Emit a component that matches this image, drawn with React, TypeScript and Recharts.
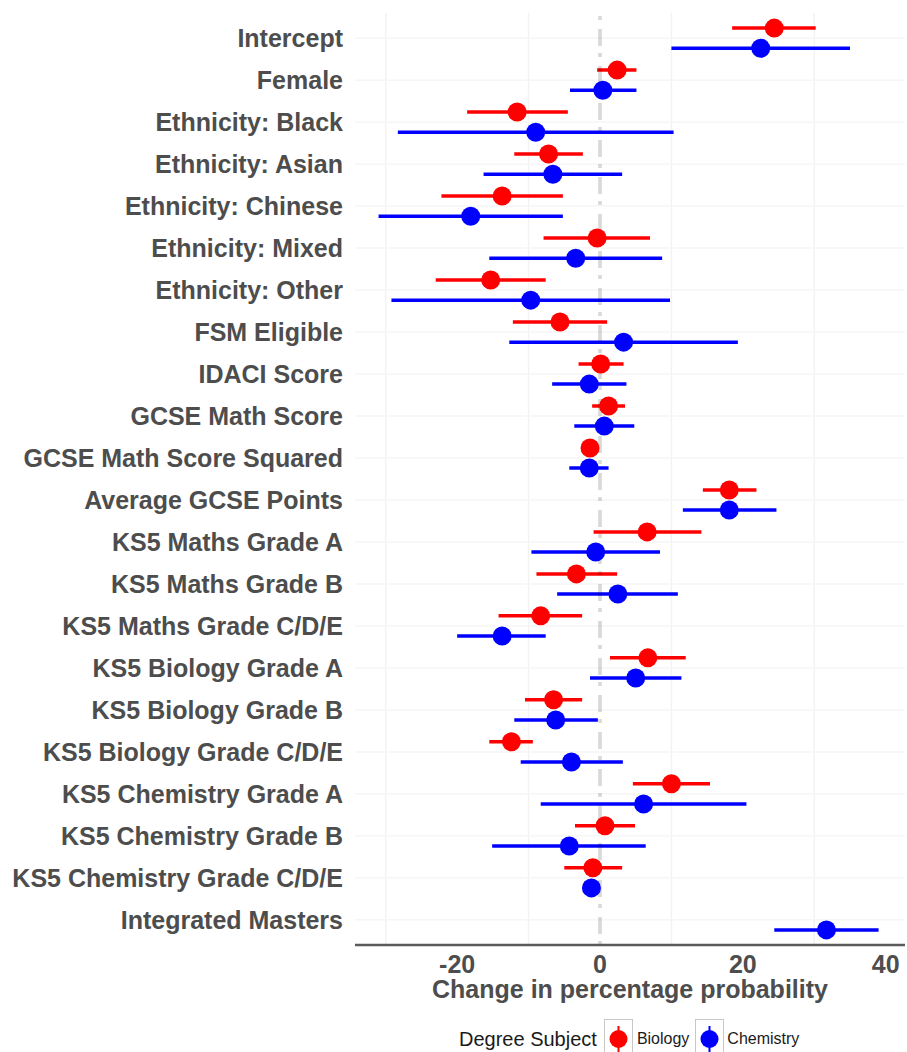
import React from 'react';
import {
  ScatterChart,
  Scatter,
  XAxis,
  YAxis,
  ErrorBar,
  ReferenceLine,
} from 'recharts';

const categories = [
  'Intercept',
  'Female',
  'Ethnicity: Black',
  'Ethnicity: Asian',
  'Ethnicity: Chinese',
  'Ethnicity: Mixed',
  'Ethnicity: Other',
  'FSM Eligible',
  'IDACI Score',
  'GCSE Math Score',
  'GCSE Math Score Squared',
  'Average GCSE Points',
  'KS5 Maths Grade A',
  'KS5 Maths Grade B',
  'KS5 Maths Grade C/D/E',
  'KS5 Biology Grade A',
  'KS5 Biology Grade B',
  'KS5 Biology Grade C/D/E',
  'KS5 Chemistry Grade A',
  'KS5 Chemistry Grade B',
  'KS5 Chemistry Grade C/D/E',
  'Integrated Masters',
];

// Biology estimates with lower / upper bounds (null = not in model)
const biologyEst = [24.4, 2.4, -11.6, -7.2, -13.7, -0.4, -15.3, -5.6, 0.1, 1.2, -1.4, 18.1, 6.6, -3.3, -8.3, 6.7, -6.5, -12.4, 10.0, 0.7, -1.0, null];
const biologyLow = [18.5, -0.4, -18.6, -12.0, -22.2, -7.9, -23.0, -12.2, -3.0, -1.1, -1.8, 14.4, -0.9, -8.9, -14.2, 1.4, -10.5, -15.5, 4.6, -3.5, -5.0, null];
const biologyHigh = [30.2, 5.1, -4.5, -2.4, -5.2, 7.0, -7.6, 1.0, 3.3, 3.5, -1.0, 21.9, 14.2, 2.4, -2.5, 12.0, -2.5, -9.4, 15.4, 4.9, 3.1, null];

// Chemistry estimates with lower / upper bounds
const chemistryEst = [22.5, 0.4, -9.0, -6.6, -18.1, -3.4, -9.7, 3.3, -1.5, 0.6, -1.5, 18.1, -0.6, 2.5, -13.7, 5.0, -6.2, -4.0, 6.1, -4.3, -1.2, 31.7];
const chemistryLow = [10.0, -4.2, -28.3, -16.3, -31.0, -15.5, -29.2, -12.7, -6.7, -3.6, -4.3, 11.6, -9.6, -6.0, -20.0, -1.4, -12.0, -11.1, -8.3, -15.1, -1.4, 24.4];
const chemistryHigh = [35.0, 5.1, 10.3, 3.1, -5.2, 8.7, 9.8, 19.3, 3.7, 4.8, 1.2, 24.7, 8.4, 10.9, -7.6, 11.4, -0.3, 3.2, 20.5, 6.4, -1.0, 39.0];

const xTicks = [-20, 0, 20, 40];
const minorGrid = [-30, -10, 10, 30];

const DODGE = 0.24;
const FONT = '"Liberation Sans", Arial, Helvetica, sans-serif';
const TEXT = '#4D4D4D';

const buildRows = (est: (number | null)[], low: (number | null)[], high: (number | null)[], shift: number) =>
  est
    .map((v, i) => {
      if (v === null) return null;
      return {
        x: v,
        y: i + shift,
        err: [v - (low[i] as number), (high[i] as number) - v],
      };
    })
    .filter(Boolean);

const biologyRows = buildRows(biologyEst, biologyLow, biologyHigh, -DODGE);
const chemistryRows = buildRows(chemistryEst, chemistryLow, chemistryHigh, DODGE);

const dot = (color: string) => (props: any) => (
  <circle cx={props.cx} cy={props.cy} r={9.5} fill={color} />
);

const LegendKey = ({ color }: { color: string }) => (
  <div
    style={{
      width: 29,
      height: 40,
      border: '1px solid #c8c8c8',
      boxSizing: 'border-box',
      background: '#fff',
    }}
  >
    <svg width={27} height={38}>
      <line x1={13.5} y1={6} x2={13.5} y2={32} stroke={color} strokeWidth={2} />
      <circle cx={13.5} cy={19} r={9} fill={color} />
    </svg>
  </div>
);

export default function App() {
  return (
    <div style={{ position: 'absolute', left: 0, top: 0, width: 907, height: 1052, background: '#fff', overflow: 'hidden' }}>
      <ScatterChart width={907} height={1052} margin={{ top: 13, right: 2, left: 0, bottom: 47 }}>
        {minorGrid.map((v) => (
          <ReferenceLine key={`g${v}`} x={v} stroke="#f3f3f3" strokeWidth={1.5} />
        ))}
        {categories.map((c, i) => (
          <ReferenceLine key={`h${c}`} y={i} stroke="#f6f6f6" strokeWidth={1.5} />
        ))}
        <XAxis
          type="number"
          dataKey="x"
          domain={[-34.3, 42.7]}
          ticks={xTicks}
          allowDataOverflow
          height={60}
          tickSize={0}
          tickMargin={10}
          axisLine={{ stroke: '#5a5a5a', strokeWidth: 2.5 }}
          tick={{ fill: TEXT, fontSize: 25, fontWeight: 700, fontFamily: FONT }}
          label={{
            content: (p: any) => {
              const vb = p.viewBox || { x: 355, y: 945, width: 550 };
              return (
                <text
                  x={vb.x + vb.width / 2}
                  y={vb.y + 53}
                  textAnchor="middle"
                  fill={TEXT}
                  fontSize={25}
                  fontWeight={700}
                  fontFamily={FONT}
                >
                  Change in percentage probability
                </text>
              );
            },
          }}
        />
        <YAxis
          type="number"
          dataKey="y"
          domain={[-0.6, 21.6]}
          ticks={categories.map((_, i) => i)}
          interval={0}
          reversed
          allowDataOverflow
          width={355}
          tickSize={0}
          tickMargin={12}
          axisLine={false}
          tickLine={false}
          tickFormatter={(i: number) => categories[i] ?? ''}
          tick={{ fill: TEXT, fontSize: 25, fontWeight: 700, fontFamily: FONT }}
        />
        <Scatter
          name="Biology"
          data={biologyRows as any[]}
          fill="#FF0000"
          shape={dot('#FF0000')}
          isAnimationActive={false}
        >
          <ErrorBar dataKey="err" direction="x" width={0} stroke="#FF0000" strokeWidth={3.5} />
        </Scatter>
        <Scatter
          name="Chemistry"
          data={chemistryRows as any[]}
          fill="#0000FF"
          shape={dot('#0000FF')}
          isAnimationActive={false}
        >
          <ErrorBar dataKey="err" direction="x" width={0} stroke="#0000FF" strokeWidth={3.5} />
        </Scatter>
        <ReferenceLine x={0} stroke="#000" strokeOpacity={0.15} strokeWidth={3.7} strokeDasharray="4 7 17 9" />
      </ScatterChart>
      <div
        style={{
          position: 'absolute',
          left: 459,
          top: 1019,
          display: 'flex',
          alignItems: 'flex-start',
          fontFamily: FONT,
          color: '#1a1a1a',
        }}
      >
        <span style={{ fontSize: 20, lineHeight: '40px', marginRight: 7 }}>Degree Subject</span>
        <LegendKey color="#FF0000" />
        <span style={{ fontSize: 16, lineHeight: '40px', marginLeft: 4, marginRight: 6 }}>Biology</span>
        <LegendKey color="#0000FF" />
        <span style={{ fontSize: 16, lineHeight: '40px', marginLeft: 3 }}>Chemistry</span>
      </div>
    </div>
  );
}
